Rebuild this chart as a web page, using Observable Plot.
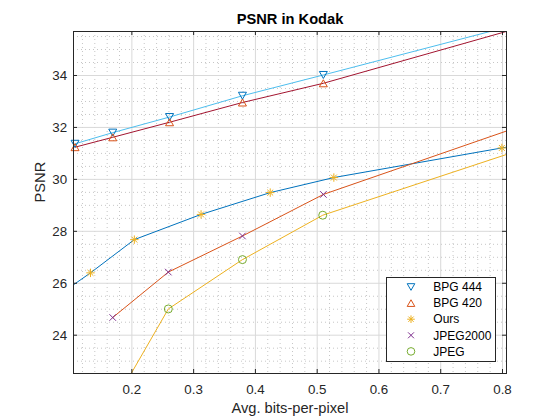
<!DOCTYPE html>
<html>
<head>
<meta charset="utf-8">
<script src="https://cdn.jsdelivr.net/npm/d3@7"></script>
<script src="https://cdn.jsdelivr.net/npm/@observablehq/plot@0.6"></script>
<style>
  html, body { margin: 0; padding: 0; background: #fff; }
  #chart { position: relative; width: 560px; height: 420px; font-family: "Liberation Sans", Arial, Helvetica, sans-serif; }
</style>
</head>
<body>
<div id="chart"></div>
<script>
// Rate–distortion results on the Kodak set: bits per pixel vs. PSNR (dB)
const bpg444Bpp  = [0.108, 0.169, 0.261, 0.379, 0.510];
const bpg444Psnr = [31.37, 31.80, 32.40, 33.22, 34.02];
const bpg420Bpp  = [0.108, 0.169, 0.261, 0.379, 0.510];
const bpg420Psnr = [31.24, 31.62, 32.20, 32.96, 33.70];
const oursBpp    = [0.133, 0.204, 0.312, 0.424, 0.527, 0.799];
const oursPsnr   = [26.40, 27.68, 28.65, 29.49, 30.07, 31.21];
const jp2kBpp    = [0.169, 0.259, 0.379, 0.510];
const jp2kPsnr   = [24.68, 26.43, 27.82, 29.42];
const jpegBpp    = [0.259, 0.379, 0.509];
const jpegPsnr   = [25.01, 26.91, 28.62];

// Curve points lying outside the visible window (clipped by the axes)
const bpg444Ends = {head: null,          tail: [0.85, 36.13]};
const bpg420Ends = {head: null,          tail: [0.85, 35.99]};
const oursEnds   = {head: [0.100, 25.85], tail: [0.85, 31.41]};
const jp2kEnds   = {head: null,          tail: [0.85, 32.22]};
const jpegEnds   = {head: [0.170, 21.33], tail: [0.85, 31.30]};

// Axis ticks and labels
const xTicks = [0.2, 0.3, 0.4, 0.5, 0.6, 0.7, 0.8];
const yTicks = [24, 26, 28, 30, 32, 34];
const xDomain = [0.1055, 0.8065];
const yDomain = [22.525, 35.694];
const titleText = "PSNR in Kodak";
const xLabel = "Avg. bits-per-pixel";
const yLabel = "PSNR";

// Marker shapes (stroke-only)
const triDown = {draw(c, size) { const r = Math.sqrt(size / Math.PI), h = r * 0.875;
  c.moveTo(-r, -h); c.lineTo(r, -h); c.lineTo(0, h); c.closePath(); }};
const triUp = {draw(c, size) { const r = Math.sqrt(size / Math.PI), h = r * 0.875;
  c.moveTo(-r, h); c.lineTo(r, h); c.lineTo(0, -h); c.closePath(); }};
const star = {draw(c, size) { const r = Math.sqrt(size / Math.PI), d = r * 0.7;
  c.moveTo(0, -r); c.lineTo(0, r); c.moveTo(-r, 0); c.lineTo(r, 0);
  c.moveTo(-d, -d); c.lineTo(d, d); c.moveTo(-d, d); c.lineTo(d, -d); }};
const cross = {draw(c, size) { const r = Math.sqrt(size / Math.PI) * 0.78;
  c.moveTo(-r, -r); c.lineTo(r, r); c.moveTo(-r, r); c.lineTo(r, -r); }};
const ring = {draw(c, size) { const r = Math.sqrt(size / Math.PI);
  c.moveTo(r, 0); c.arc(0, 0, r, 0, 2 * Math.PI); }};

const series = [
  {name: "BPG 444",  bpp: bpg444Bpp, psnr: bpg444Psnr, ends: bpg444Ends, marker: "#0072BD", line: "#4DBEEE", symbol: triDown, r: 4},
  {name: "BPG 420",  bpp: bpg420Bpp, psnr: bpg420Psnr, ends: bpg420Ends, marker: "#D95319", line: "#A2142F", symbol: triUp,   r: 4},
  {name: "Ours",     bpp: oursBpp,   psnr: oursPsnr,   ends: oursEnds,   marker: "#EDB120", line: "#0072BD", symbol: star,    r: 4.2},
  {name: "JPEG2000", bpp: jp2kBpp,   psnr: jp2kPsnr,   ends: jp2kEnds,   marker: "#7E2F8E", line: "#D95319", symbol: cross,   r: 4.2},
  {name: "JPEG",     bpp: jpegBpp,   psnr: jpegPsnr,   ends: jpegEnds,   marker: "#77AC30", line: "#EDB120", symbol: ring,    r: 4}
];

const points = s => s.bpp.map((x, i) => ({x, y: s.psnr[i]}));
const curve = s => [
  ...(s.ends.head ? [{x: s.ends.head[0], y: s.ends.head[1]}] : []),
  ...points(s),
  ...(s.ends.tail ? [{x: s.ends.tail[0], y: s.ends.tail[1]}] : [])
];

const xMinor = d3.range(6, 41).map(i => +(i * 0.02).toFixed(2)).filter(v => !xTicks.includes(v));
const yMinor = d3.range(46, 72).map(i => i * 0.5).filter(v => !yTicks.includes(v));

const W = 560, H = 420, mL = 73, mR = 54, mT = 31, mB = 47;
const frameW = W - mL - mR, frameH = H - mT - mB, tickLen = 4;
const ink = "#262626";
const fmtX = d3.format(".1f");

const chart = Plot.plot({
  width: W, height: H,
  marginLeft: mL, marginRight: mR, marginTop: mT, marginBottom: mB,
  style: {background: "#fff", fontFamily: "'Liberation Sans', Arial, Helvetica, sans-serif"},
  x: {domain: xDomain, axis: null},
  y: {domain: yDomain, axis: null},
  marks: [
    // minor grid (dotted) and major grid (solid)
    Plot.ruleX(xMinor, {x: d => d, stroke: "#c6c6c6", strokeWidth: 1, strokeDasharray: "1,3"}),
    Plot.ruleY(yMinor, {y: d => d, stroke: "#c6c6c6", strokeWidth: 1, strokeDasharray: "1,3"}),
    Plot.ruleX(xTicks, {x: d => d, stroke: "#d9d9d9", strokeWidth: 1}),
    Plot.ruleY(yTicks, {y: d => d, stroke: "#d9d9d9", strokeWidth: 1}),
    // curves
    ...series.map(s => Plot.line(curve(s), {x: "x", y: "y", stroke: s.line, strokeWidth: 1, clip: true})),
    // markers
    ...series.map(s => Plot.dot(points(s), {x: "x", y: "y", symbol: s.symbol, r: s.r, stroke: s.marker, fill: "none", strokeWidth: 1})),
    // inward tick marks on all four sides
    Plot.ruleX(xTicks, {x: d => d, insetTop: frameH - tickLen, stroke: ink}),
    Plot.ruleX(xTicks, {x: d => d, insetBottom: frameH - tickLen, stroke: ink}),
    Plot.ruleY(yTicks, {y: d => d, insetRight: frameW - tickLen, stroke: ink}),
    Plot.ruleY(yTicks, {y: d => d, insetLeft: frameW - tickLen, stroke: ink}),
    Plot.frame({stroke: ink, strokeWidth: 1}),
    // tick labels
    Plot.text(xTicks, {x: d => d, text: d => fmtX(d), frameAnchor: "bottom", lineAnchor: "middle", dy: 16, fontSize: 13.33, fill: ink}),
    Plot.text(yTicks, {y: d => d, text: d => String(d), frameAnchor: "left", textAnchor: "end", lineAnchor: "middle", dx: -6.3, dy: 0.5, fontSize: 13.33, fill: ink}),
    // title and axis labels
    Plot.text([titleText], {text: d => d, frameAnchor: "top", lineAnchor: "middle", dy: -12.7, fontSize: 14.67, fontWeight: "bold", fill: "#000"}),
    Plot.text([xLabel], {text: d => d, frameAnchor: "bottom", lineAnchor: "middle", dy: 34.3, fontSize: 14.67, fill: ink}),
    Plot.text([yLabel], {text: d => d, frameAnchor: "left", lineAnchor: "middle", rotate: -90, dx: -33, fontSize: 14.67, fill: ink})
  ]
});

const root = document.getElementById("chart");
root.appendChild(chart);

// Legend box in the lower right of the axes
const lg = d3.select(root).append("svg")
  .attr("width", 112).attr("height", 87)
  .style("position", "absolute").style("left", "386px").style("top", "277px")
  .style("font-family", "'Liberation Sans', Arial, Helvetica, sans-serif");
lg.append("rect").attr("x", 0.5).attr("y", 0.5).attr("width", 109).attr("height", 84)
  .attr("fill", "#fff").attr("stroke", ink);
series.forEach((s, i) => {
  const cy = 10 + i * 16.1;
  lg.append("path")
    .attr("transform", `translate(25,${cy})`)
    .attr("d", d3.symbol(s.symbol, Math.PI * 3.8 * 3.8)())
    .attr("fill", "none").attr("stroke", s.marker).attr("stroke-width", 1);
  lg.append("text").attr("x", 47.3).attr("y", cy + 4.2)
    .attr("font-size", 12).attr("fill", "#000").text(s.name);
});
</script>
</body>
</html>
